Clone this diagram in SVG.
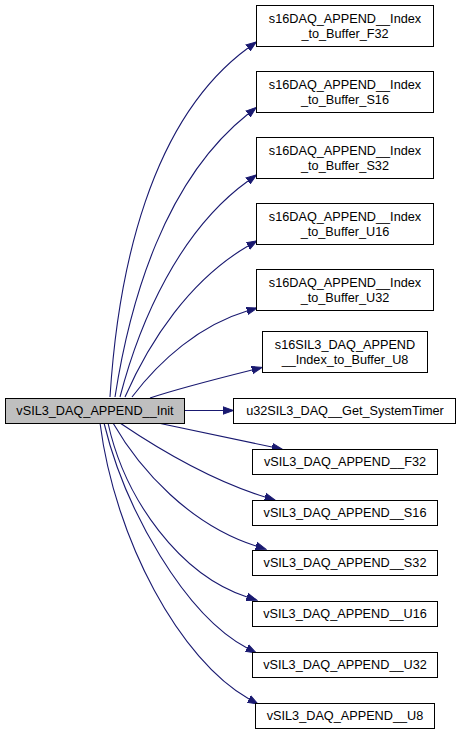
<svg xmlns="http://www.w3.org/2000/svg" width="461" height="734" viewBox="0 0 461 734">
<style>
.n rect{fill:#fff;stroke:#000;stroke-width:1}
.n.root rect{fill:#bfbfbf}
.n text{font-family:"Liberation Sans",Arial,sans-serif;font-size:12.7px;fill:#000;text-anchor:middle}
.e path{fill:none;stroke:#191970;stroke-width:1.1}
</style>
<defs>
<marker id="ah" markerUnits="userSpaceOnUse" markerWidth="12" markerHeight="10" refX="0" refY="5" orient="auto" viewBox="0 0 12 10">
<path d="M0,1.3 L10.5,5 L0,8.7 z" fill="#191970" stroke="#191970" stroke-width="1"/>
</marker>
</defs>
<g id="edges" class="e">
<path marker-end="url(#ah)" d="M110,397 C118,270 150,120 248,48"/>
<path marker-end="url(#ah)" d="M115,397 C130,300 165,180 248,114"/>
<path marker-end="url(#ah)" d="M120,397 C140,320 180,230 248,181"/>
<path marker-end="url(#ah)" d="M125,397 C150,340 190,280 248,246"/>
<path marker-end="url(#ah)" d="M132,397 C160,360 200,325 247,311"/>
<path marker-end="url(#ah)" d="M150,398 C180,388 220,378 252,370"/>
<path marker-end="url(#ah)" d="M184,410.5 L223,410.5"/>
<path marker-end="url(#ah)" d="M158,423 C190,430 230,438 272,447"/>
<path marker-end="url(#ah)" d="M120,423 C160,450 210,480 265,497"/>
<path marker-end="url(#ah)" d="M113,423 C140,470 190,525 256,546"/>
<path marker-end="url(#ah)" d="M108,423 C125,500 180,575 247,597"/>
<path marker-end="url(#ah)" d="M104,423 C125,510 185,615 247,648"/>
<path marker-end="url(#ah)" d="M100,423 C115,540 180,660 249,699"/>
</g>
<g id="n_init" class="n root"><rect x="5.5" y="398.5" width="179" height="25"/><text x="95" y="415">vSIL3_DAQ_APPEND__Init</text></g>
<g id="n_f32idx" class="n"><rect x="256.5" y="5.5" width="177" height="41"/><text x="345" y="22.5">s16DAQ_APPEND__Index</text><text x="345" y="37.5">_to_Buffer_F32</text></g>
<g id="n_s16idx" class="n"><rect x="256.5" y="71.5" width="177" height="41"/><text x="345" y="88.5">s16DAQ_APPEND__Index</text><text x="345" y="103.5">_to_Buffer_S16</text></g>
<g id="n_s32idx" class="n"><rect x="256.5" y="137.5" width="177" height="41"/><text x="345" y="154.5">s16DAQ_APPEND__Index</text><text x="345" y="169.5">_to_Buffer_S32</text></g>
<g id="n_u16idx" class="n"><rect x="256.5" y="203.5" width="177" height="41"/><text x="345" y="220.5">s16DAQ_APPEND__Index</text><text x="345" y="235.5">_to_Buffer_U16</text></g>
<g id="n_u32idx" class="n"><rect x="256.5" y="269.5" width="177" height="41"/><text x="345" y="286.5">s16DAQ_APPEND__Index</text><text x="345" y="301.5">_to_Buffer_U32</text></g>
<g id="n_u8idx" class="n"><rect x="262.5" y="331.5" width="165" height="41"/><text x="345" y="348.5">s16SIL3_DAQ_APPEND</text><text x="345" y="363.5">__Index_to_Buffer_U8</text></g>
<g id="n_timer" class="n"><rect x="233.5" y="398.5" width="222" height="25"/><text x="345" y="415">u32SIL3_DAQ__Get_SystemTimer</text></g>
<g id="n_f32" class="n"><rect x="252.5" y="449.5" width="185" height="25"/><text x="345" y="466">vSIL3_DAQ_APPEND__F32</text></g>
<g id="n_s16" class="n"><rect x="252.5" y="500.5" width="185" height="25"/><text x="345" y="517">vSIL3_DAQ_APPEND__S16</text></g>
<g id="n_s32" class="n"><rect x="252.5" y="550.5" width="185" height="25"/><text x="345" y="567">vSIL3_DAQ_APPEND__S32</text></g>
<g id="n_u16" class="n"><rect x="252.5" y="601.5" width="185" height="25"/><text x="345" y="618">vSIL3_DAQ_APPEND__U16</text></g>
<g id="n_u32" class="n"><rect x="252.5" y="652.5" width="185" height="25"/><text x="345" y="669">vSIL3_DAQ_APPEND__U32</text></g>
<g id="n_u8" class="n"><rect x="255.5" y="703.5" width="179" height="25"/><text x="345" y="720">vSIL3_DAQ_APPEND__U8</text></g>
</svg>
